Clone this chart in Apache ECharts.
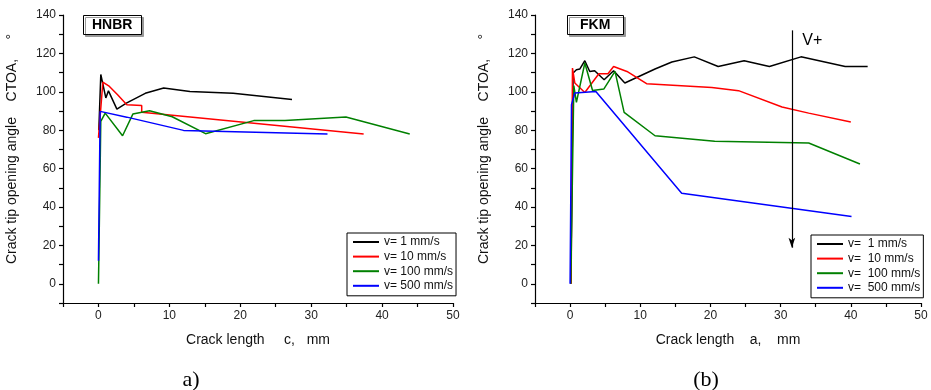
<!DOCTYPE html>
<html lang="en">
<head>
  <meta charset="UTF-8">
  <title>CTOA vs crack length</title>
  <script src="https://cdn.jsdelivr.net/npm/echarts@6/dist/echarts.min.js"></script>
  <style>
    html, body { margin: 0; padding: 0; background: #fff; }
    #main { width: 931px; height: 390px; }
  </style>
</head>
<body>
<div id="main"></div>
<script>
  // HNBR, crack length c (mm) vs CTOA (deg)
  var hnbr1 = [[0.05, 80], [0.33, 109], [1.04, 96.8], [1.41, 100.5], [2.6, 91], [4.0, 94.2], [6.6, 99.2], [9.2, 102], [12.9, 100.1], [19, 99.2], [27.3, 96]];
  var hnbr10 = [[0, 76], [0.62, 105], [1.55, 102.8], [2.7, 98.5], [4.0, 93.3], [6.1, 92.9], [6.1, 89.3], [37.4, 78]];
  var hnbr100 = [[0, 0], [0.05, 12], [0.33, 84.6], [0.95, 88.9], [3.4, 77.1], [4.85, 88.4], [7.2, 90.1], [10.4, 87], [15.1, 78.2], [21.9, 85], [26.3, 85], [34.9, 86.9], [43.9, 78]];
  var hnbr500 = [[0, 12], [0.24, 89.8], [4.0, 86.8], [12, 79.9], [32.3, 78]];

  // FKM, crack length a (mm) vs CTOA (deg)
  var fkm1 = [[0.1, 0], [0.43, 109.8], [0.9, 111.5], [1.4, 111.9], [2.1, 116.2], [2.8, 110.6], [3.5, 111], [4.85, 106.3], [6.2, 111], [7.8, 104.6], [12.1, 111.9], [14.5, 115.5], [17.7, 118.2], [21.1, 113.2], [24.8, 116.2], [28.4, 113.2], [32.9, 118.2], [39.2, 113.2], [42.4, 113.2]];
  var fkm10 = [[0.15, 0], [0.34, 112.4], [0.67, 104.6], [2.1, 99.6], [4.1, 109.4], [5.4, 109.4], [6.2, 113.2], [8.1, 110.6], [10.9, 104.2], [20.2, 102.3], [24, 100.6], [30.2, 92.1], [34, 88.9], [40, 84.3]];
  var fkm100 = [[0.1, 0], [0.53, 103.2], [0.9, 94.5], [2.1, 115], [3.2, 100.7], [4.8, 101.4], [6.4, 110.6], [7.7, 89.3], [12.1, 77.1], [20.6, 74.2], [34, 73.3], [41.3, 62.4]];
  var fkm500 = [[0, 0], [0.2, 93.3], [0.67, 99.4], [3.67, 100.2], [15.9, 47.2], [40.1, 35.1]];

  var namesA = ['v= 1 mm/s', 'v= 10 mm/s', 'v= 100 mm/s', 'v= 500 mm/s'];
  var namesB = ['v=  1 mm/s', 'v=  10 mm/s', 'v=  100 mm/s', 'v=  500 mm/s'];
  var colors = ['#000000', '#ff0000', '#008000', '#0000ff'];

  // label steps (ticks every half step)
  var xLabelStep = 10, yLabelStep = 20;

  // arrow annotation on FKM panel
  var arrowX = 31.6, arrowTop = 132, arrowBottom = 18.8;

  var font = 'Liberation Sans, Arial, sans-serif';
  var serif = '"Liberation Serif", "Times New Roman", serif';

  function xAxis(idx, name) {
    return {
      type: 'value', gridIndex: idx, min: -5, max: 50, interval: 5, position: 'bottom',
      name: name, nameLocation: 'middle', nameGap: 30,
      nameTextStyle: { fontFamily: font, fontSize: 14, color: '#111' },
      axisLine: { show: true, onZero: false, lineStyle: { color: '#000', width: 1.2 } },
      axisTick: { show: true, length: 4, lineStyle: { color: '#000', width: 1.2 } },
      axisLabel: {
        fontFamily: font, fontSize: 12, color: '#222', margin: 7,
        formatter: function (v) { return v % xLabelStep === 0 ? String(v) : ''; }
      },
      splitLine: { show: false }
    };
  }
  function yAxis(idx) {
    return {
      type: 'value', gridIndex: idx, min: -10, max: 140, interval: 10, position: 'left',
      name: 'Crack tip opening angle    CTOA,     \u00b0',
      nameLocation: 'middle', nameRotate: 90, nameGap: 44,
      nameTextStyle: { fontFamily: font, fontSize: 14, color: '#111', padding: [0, 0, 0, 20] },
      axisLine: { show: true, onZero: false, lineStyle: { color: '#000', width: 1.2 } },
      axisTick: { show: true, length: 4, lineStyle: { color: '#000', width: 1.2 } },
      axisLabel: {
        fontFamily: font, fontSize: 12, color: '#222', margin: 7,
        formatter: function (v) { return v % yLabelStep === 0 ? String(v) : ''; }
      },
      splitLine: { show: false }
    };
  }
  function lineSeries(name, data, color, idx) {
    return {
      name: name, type: 'line', xAxisIndex: idx, yAxisIndex: idx,
      data: data, showSymbol: false, symbol: 'none',
      lineStyle: { color: color, width: 1.5 }, itemStyle: { color: color }
    };
  }
  function legend(names, left, top) {
    return {
      data: names, orient: 'vertical', left: left, top: top,
      backgroundColor: '#fff', borderColor: '#000', borderWidth: 1,
      padding: [2, 3, 3, 6], itemGap: 0.6, itemWidth: 26, itemHeight: 2, icon: 'rect',
      textStyle: { fontFamily: font, fontSize: 12, color: '#111', lineHeight: 14 }
    };
  }

  var series = [
    lineSeries(namesA[0], hnbr1, colors[0], 0),
    lineSeries(namesA[1], hnbr10, colors[1], 0),
    lineSeries(namesA[2], hnbr100, colors[2], 0),
    lineSeries(namesA[3], hnbr500, colors[3], 0),
    lineSeries(namesB[0], fkm1, colors[0], 1),
    lineSeries(namesB[1], fkm10, colors[1], 1),
    lineSeries(namesB[2], fkm100, colors[2], 1),
    lineSeries(namesB[3], fkm500, colors[3], 1)
  ];
  series[4].markLine = {
    silent: true, symbol: ['none', 'arrow'], symbolSize: [5, 10],
    label: { show: false },
    lineStyle: { color: '#000', width: 1.2, type: 'solid' },
    data: [[{ coord: [arrowX, arrowTop] }, { coord: [arrowX, arrowBottom] }]]
  };
  series[4].markPoint = {
    silent: true, symbol: 'circle', symbolSize: 0,
    label: { show: true, formatter: 'V+', fontFamily: font, fontSize: 16, color: '#000' },
    data: [{ coord: [34.5, 126.6] }]
  };

  var chart = echarts.init(document.getElementById('main'));
  chart.setOption({
    animation: false,
    backgroundColor: '#fff',
    title: [
      { text: 'HNBR', left: 83, top: 15, padding: [3, 9, 3, 9], borderColor: '#000', borderWidth: 1,
        backgroundColor: '#fff', shadowColor: '#999', shadowOffsetX: 2, shadowOffsetY: 2,
        textStyle: { fontFamily: font, fontSize: 14, fontWeight: 'bold', color: '#000' } },
      { text: 'FKM', left: 567, top: 15, padding: [3, 13, 3, 13], borderColor: '#000', borderWidth: 1,
        backgroundColor: '#fff', shadowColor: '#999', shadowOffsetX: 2, shadowOffsetY: 2,
        textStyle: { fontFamily: font, fontSize: 14, fontWeight: 'bold', color: '#000' } }
    ],
    legend: [legend(namesA, 347, 233), legend(namesB, 811, 235)],
    grid: [
      { left: 63, right: 478, top: 15, bottom: 87, outerBoundsMode: 'none' },
      { left: 535, right: 10, top: 15, bottom: 87, outerBoundsMode: 'none' }
    ],
    xAxis: [xAxis(0, 'Crack length     c,   mm'), xAxis(1, 'Crack length    a,    mm')],
    yAxis: [yAxis(0), yAxis(1)],
    graphic: [
      { type: 'text', x: 191, y: 380, style: { text: 'a)', font: '22px ' + serif, fill: '#000', align: 'center', verticalAlign: 'middle' } },
      { type: 'text', x: 706, y: 380, style: { text: '(b)', font: '22px ' + serif, fill: '#000', align: 'center', verticalAlign: 'middle' } }
    ],
    series: series
  });
</script>
</body>
</html>
